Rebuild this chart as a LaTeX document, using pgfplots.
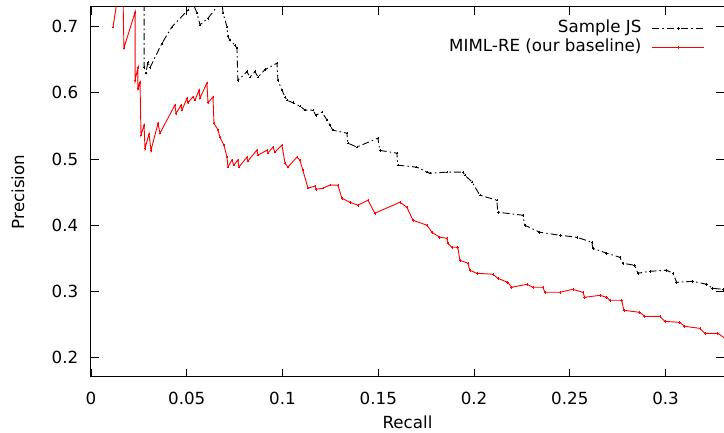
\documentclass[border=0pt]{standalone}
\usepackage{pgfplots}
\pgfplotsset{compat=1.18}
\usepackage{fontspec}
\setmainfont{DejaVu Sans}
\begin{document}
\fontsize{16.7bp}{19bp}\selectfont
\begin{tikzpicture}
\begin{axis}[
  scale only axis,
  width=633bp, height=370bp,
  xmin=0, xmax=0.3305, ymin=0.17, ymax=0.73,
  xtick={0,0.05,0.1,0.15,0.2,0.25,0.3},
  ytick={0.2,0.3,0.4,0.5,0.6,0.7},
  xticklabels={0,0.05,0.1,0.15,0.2,0.25,0.3},
  yticklabels={0.2,0.3,0.4,0.5,0.6,0.7},
  tick align=inside,
  xtick pos=both, ytick pos=both,
  major tick length=8bp,
  every tick/.style={black, line width=0.8bp},
  axis line style={line width=1bp},
  xticklabel style={yshift=-9bp},
  yticklabel style={xshift=-7bp},
  xlabel={Recall}, ylabel={Precision},
  xlabel style={at={(axis description cs:0.5,-0.122)},anchor=center},
  ylabel style={at={(axis description cs:-0.1153,0.5)},anchor=center},
  legend plot pos=right,
  legend cell align=right,
  legend image code/.code={\draw[#1,mark=none] (0bp,0bp) -- (52bp,0bp);
     \draw[#1,only marks] plot coordinates {(26bp,0bp)};},
  legend style={at={(axis description cs:0.970,0.968)}, anchor=north east,
     draw=none, fill=none, inner sep=0pt, row sep=0pt, column sep=9bp,
     nodes={inner sep=1.5bp, text height=12bp, text depth=4bp}},
]
\coordinate (SW) at (rel axis cs:0,0);
\coordinate (NE) at (rel axis cs:1,1);

\addplot[black, line width=0.9bp, dash pattern=on 7bp off 3bp on 1.5bp off 3bp,
  mark=+, mark size=1.3bp, mark options={solid, line width=0.6bp}] coordinates {
(0.0277,0.80) (0.0277,0.639) (0.0287,0.630) (0.0297,0.647) (0.0308,0.638)
(0.037,0.675) (0.0423,0.700) (0.0506,0.7255) (0.0527,0.74) (0.0553,0.721)
(0.0569,0.703) (0.0611,0.713) (0.0684,0.74) (0.0689,0.721) (0.071,0.700)
(0.0715,0.685) (0.0725,0.680) (0.0752,0.672) (0.0762,0.668) (0.0767,0.619)
(0.0814,0.632) (0.083,0.624) (0.0856,0.632) (0.0872,0.624) (0.0908,0.635)
(0.0971,0.645) (0.0976,0.619) (0.0997,0.604) (0.1013,0.594) (0.1023,0.589)
(0.1054,0.585) (0.1091,0.580) (0.1117,0.574) (0.1159,0.574) (0.1174,0.566)
(0.1206,0.571) (0.1232,0.559) (0.1247,0.551) (0.1263,0.5436) (0.1336,0.539)
(0.1341,0.524) (0.1388,0.518) (0.1498,0.5315) (0.1508,0.513) (0.1597,0.5088)
(0.1602,0.4906) (0.1701,0.4876) (0.1754,0.480) (0.1769,0.4785) (0.1858,0.480)
(0.1942,0.480) (0.1952,0.4755) (0.1990,0.465) (0.2030,0.4452) (0.2119,0.4376)
(0.2124,0.4194) (0.2255,0.4148) (0.2265,0.3997) (0.2343,0.3891) (0.2448,0.3845)
(0.2537,0.3815) (0.2615,0.3739) (0.2620,0.3648) (0.2693,0.3573) (0.2761,0.3512)
(0.2777,0.3421) (0.2839,0.3391) (0.2855,0.327) (0.2918,0.330) (0.3006,0.3315)
(0.3038,0.327) (0.3058,0.3133) (0.3142,0.3148) (0.3215,0.3103) (0.3246,0.3042)
(0.3299,0.3027) (0.3335,0.302)
};
\addlegendentry{Sample JS}

\addplot[red, line width=0.9bp, mark=+, mark size=1.3bp, mark options={solid, line width=0.6bp}] coordinates {
(0.0115,0.700) (0.0141,0.748) (0.0167,0.748) (0.0172,0.668) (0.023,0.722)
(0.023,0.619) (0.0245,0.638) (0.0245,0.607) (0.0256,0.616) (0.0261,0.536)
(0.0277,0.551) (0.0282,0.516) (0.0303,0.538) (0.0313,0.513) (0.035,0.554)
(0.036,0.539) (0.0438,0.5815) (0.0444,0.569) (0.047,0.5815) (0.0475,0.574)
(0.0501,0.592) (0.0506,0.585) (0.0532,0.594) (0.0543,0.589) (0.0564,0.604)
(0.0569,0.592) (0.0605,0.615) (0.0611,0.585) (0.0637,0.594) (0.0642,0.554)
(0.0663,0.544) (0.0673,0.533) (0.0694,0.521) (0.071,0.503) (0.0715,0.488)
(0.0736,0.4985) (0.0746,0.4906) (0.0767,0.4985) (0.0772,0.4876) (0.0814,0.5027)
(0.0819,0.4967) (0.0866,0.5133) (0.0872,0.5058) (0.0919,0.5133) (0.0924,0.5088)
(0.095,0.518) (0.096,0.5103) (0.0997,0.5209) (0.1013,0.4936) (0.1028,0.4876)
(0.1075,0.5027) (0.1091,0.4982) (0.1106,0.483) (0.1133,0.4558) (0.1170,0.4590)
(0.1175,0.4540) (0.1211,0.4558) (0.1247,0.4603) (0.1289,0.4603) (0.131,0.4406)
(0.1352,0.4345) (0.1394,0.430)
(0.1446,0.4376) (0.1482,0.4179) (0.1613,0.4345) (0.1649,0.427) (0.1681,0.4073)
(0.1754,0.3997) (0.178,0.3891) (0.1821,0.3815) (0.1858,0.380) (0.1863,0.3724)
(0.1884,0.3664) (0.1915,0.3664) (0.1926,0.3467) (0.1968,0.3421) (0.1978,0.3315)
(0.2015,0.327) (0.2098,0.3255) (0.2124,0.3194) (0.2176,0.3133) (0.2197,0.3058)
(0.2276,0.3103) (0.2307,0.3058) (0.2359,0.3058) (0.2370,0.2982) (0.2448,0.2982)
(0.2516,0.3027) (0.2568,0.2982) (0.2578,0.2906) (0.2657,0.2936) (0.2693,0.2906)
(0.2709,0.2861) (0.2771,0.2861) (0.2782,0.2709) (0.2865,0.2679) (0.2891,0.2618)
(0.297,0.2618) (0.2996,0.2542) (0.3074,0.2527) (0.310,0.2467) (0.3179,0.2436)
(0.3205,0.2361) (0.3272,0.2361) (0.3304,0.230)
};
\addlegendentry{MIML-RE (our baseline)}
\end{axis}
\pgfresetboundingbox
\path[use as bounding box] ([shift={(-91bp,-56bp)}]SW) rectangle ([shift={(0bp,7bp)}]NE);
\end{tikzpicture}
\end{document}
